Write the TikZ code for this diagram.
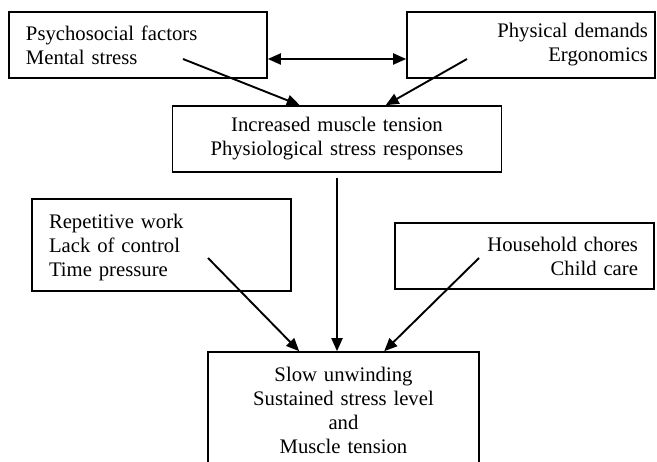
\documentclass[tikz,border=0pt]{standalone}
\usepackage{fontspec}
\setmainfont{Liberation Serif}
\usetikzlibrary{arrows.meta}
\begin{document}
\begin{tikzpicture}[x=1pt,y=-1pt,
  box/.style={draw, line width=1.6pt, font=\fontsize{20.7}{24}\selectfont, inner ysep=0pt},
  arr/.style={line width=1.9pt, -{Triangle[length=13pt,width=11pt]}},
  darr/.style={line width=1.9pt, {Triangle[length=13pt,width=11pt]}-{Triangle[length=13pt,width=11pt]}}]
\clip (0,0) rectangle (657,462);
\fill[white] (0,0) rectangle (657,462);
% boxes
\node[box, minimum width=258pt, minimum height=66pt, text width=224pt, inner xsep=17pt, align=left] (tl) at (138,45) {Psychosocial factors\\Mental stress};
\node[box, minimum width=248pt, minimum height=66pt, text width=234pt, inner xsep=7pt, align=right] (tr) at (531,45) {Physical demands\\Ergonomics};
\node[box, minimum width=329pt, minimum height=66pt, text width=309pt, inner xsep=10pt, align=center] (mid) at (337,139) {Increased muscle tension\\Physiological stress responses};
\node[box, minimum width=259pt, minimum height=92pt, text width=225pt, inner xsep=17pt, align=left] (lb) at (161.5,245) {\rule{0pt}{19pt}Repetitive work\\Lack of control\\Time pressure};
\node[box, minimum width=259pt, minimum height=66pt, text width=227pt, inner xsep=16pt, align=right] (rb) at (524.5,256) {Household chores\\Child care};
\node[box, minimum width=271pt, minimum height=116pt, text width=251pt, inner xsep=10pt, align=center] (bb) at (343.5,410) {Slow unwinding\\Sustained stress level\\and\\Muscle tension};
% free ends of connectors
\coordinate (s1) at (183,59);
\coordinate (s2) at (467,59);
\coordinate (s3) at (208,258);
\coordinate (s4) at (479,258);
% connectors
\draw[darr] ([yshift=-14pt]tl.east) -- ([yshift=-14pt]tr.west);
\draw[arr] (s1) -- ([xshift=128pt]mid.north west);
\draw[arr] (s2) -- ([xshift=214pt]mid.north west);
\draw[arr] ([yshift=-5pt]mid.south) -- (mid.south |- bb.north);
\draw[arr] (s3) -- ([xshift=92pt]bb.north west);
\draw[arr] (s4) -- ([xshift=177pt]bb.north west);
\end{tikzpicture}
\end{document}
